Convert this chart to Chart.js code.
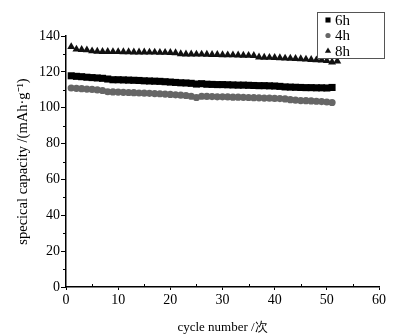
<!DOCTYPE html>
<html>
<head>
<meta charset="utf-8">
<script src="https://cdn.jsdelivr.net/npm/chart.js@4/dist/chart.umd.min.js"></script>
<style>
  html, body { margin: 0; padding: 0; background: #fff; }
  #wrap { width: 405px; height: 335px; }
</style>
</head>
<body>
<div id="wrap"><canvas id="cap_plot"></canvas></div>
<script>
'use strict';

// cycle numbers
const cycles_6h = Array.from({ length: 51 }, (_, i) => i + 1);
const cycles_4h = Array.from({ length: 51 }, (_, i) => i + 1);
const cycles_8h = Array.from({ length: 52 }, (_, i) => i + 1);

// specific capacity (mAh/g)
const cap_6h = [117.8, 117.5, 117.3, 117.0, 116.8, 116.6, 116.4, 116.0, 115.6, 115.6,
    115.5, 115.4, 115.3, 115.2, 115.0, 114.9, 114.8, 114.7, 114.5, 114.3,
    114.1, 113.9, 113.8, 113.6, 113.2, 113.4, 113.1, 113.0, 112.9, 112.9,
    112.8, 112.7, 112.6, 112.6, 112.5, 112.4, 112.3, 112.3, 112.2, 112.1,
    111.9, 111.6, 111.5, 111.4, 111.3, 111.2, 111.2, 111.1, 111.1, 111.0, 111.3];
const cap_4h = [111.0, 110.8, 110.6, 110.4, 110.2, 109.9, 109.6, 108.9, 108.8, 108.7,
    108.6, 108.5, 108.4, 108.2, 108.1, 108.0, 107.9, 107.8, 107.6, 107.4,
    107.2, 107.0, 106.8, 106.4, 105.7, 106.4, 106.3, 106.2, 106.1, 106.1,
    106.0, 105.9, 105.9, 105.8, 105.7, 105.6, 105.5, 105.4, 105.3, 105.2,
    105.1, 104.9, 104.5, 104.2, 104.0, 103.9, 103.8, 103.6, 103.4, 103.2, 102.9];
const cap_8h = [134.0, 132.6, 132.4, 132.2, 131.6, 131.4, 131.3, 131.3, 131.2, 131.2,
    131.1, 131.1, 131.0, 131.0, 131.0, 130.9, 130.9, 130.8, 130.8, 130.7,
    130.6, 130.0, 129.9, 129.9, 129.8, 129.8, 129.7, 129.6, 129.6, 129.5,
    129.4, 129.4, 129.3, 129.2, 129.1, 129.0, 128.2, 128.1, 128.0, 127.9,
    127.8, 127.6, 127.5, 127.4, 127.2, 127.0, 126.8, 126.6, 126.5, 126.2, 125.4, 126.0];

const series_labels = ['6h', '4h', '8h'];

const FONT = "'Liberation Serif', 'Times New Roman', serif";

function to_points(xs, ys) {
    return xs.map((x, i) => ({ x: x, y: ys[i] }));
}

// minor ticks: short marks between the labelled ones
const minorTicks = {
    id: 'minorTicks',
    afterDraw(chart) {
        const ctx = chart.ctx;
        const xs = chart.scales.x, ys = chart.scales.y;
        const area = chart.chartArea;
        ctx.save();
        ctx.strokeStyle = '#000';
        ctx.lineWidth = 1;
        ctx.beginPath();
        for (let v = 5; v < 60; v += 10) {
            const px = Math.round(xs.getPixelForValue(v)) + 0.5;
            ctx.moveTo(px, area.bottom);
            ctx.lineTo(px, area.bottom - 3);
        }
        for (let v = 10; v < 140; v += 20) {
            const py = Math.round(ys.getPixelForValue(v)) + 0.5;
            ctx.moveTo(area.left, py);
            ctx.lineTo(area.left - 3, py);
        }
        ctx.stroke();
        ctx.restore();
    }
};

// boxed legend in the top right corner
const boxLegend = {
    id: 'boxLegend',
    afterDraw(chart) {
        const ctx = chart.ctx;
        const left = 317, top = 12, w = 67, h = 46;
        ctx.save();
        ctx.fillStyle = '#fff';
        ctx.fillRect(left, top, w, h);
        ctx.strokeStyle = '#555';
        ctx.lineWidth = 1;
        ctx.strokeRect(left + 0.5, top + 0.5, w, h);
        ctx.font = '15px ' + FONT;
        ctx.textBaseline = 'middle';
        chart.data.datasets.forEach((ds, i) => {
            const y = top + 8 + i * 15.5;
            ctx.fillStyle = ds.backgroundColor;
            ctx.strokeStyle = ds.borderColor;
            Chart.helpers.drawPoint(ctx, {
                pointStyle: ds.pointStyle,
                radius: ds.pointStyle === 'circle' ? 2.6 : 3.6,
                borderWidth: 0
            }, left + 11, y);
            ctx.fillStyle = '#000';
            ctx.fillText(ds.label, left + 18, y + 1);
        });
        ctx.restore();
    }
};

const config = {
    type: 'scatter',
    data: {
        datasets: [
            {
                label: series_labels[0],
                data: to_points(cycles_6h, cap_6h),
                pointStyle: 'rect',
                pointRadius: 5,
                backgroundColor: '#000',
                borderColor: '#000',
                borderWidth: 0
            },
            {
                label: series_labels[1],
                data: to_points(cycles_4h, cap_4h),
                pointStyle: 'circle',
                pointRadius: 3.6,
                backgroundColor: '#666',
                borderColor: '#666',
                borderWidth: 0
            },
            {
                label: series_labels[2],
                data: to_points(cycles_8h, cap_8h),
                pointStyle: 'triangle',
                pointRadius: 4.6,
                backgroundColor: '#111',
                borderColor: '#111',
                borderWidth: 0
            }
        ]
    },
    options: {
        responsive: false,
        animation: false,
        layout: {
            padding: { top: 36, right: 26, left: 0, bottom: 0 }
        },
        plugins: {
            legend: { display: false },
            tooltip: { enabled: false }
        },
        scales: {
            x: {
                type: 'linear',
                min: 0,
                max: 60,
                ticks: {
                    stepSize: 10,
                    color: '#000',
                    padding: 2,
                    font: { family: FONT, size: 14 }
                },
                grid: {
                    drawOnChartArea: false,
                    tickLength: 3,
                    color: '#000'
                },
                border: { color: '#000', width: 1.5 },
                title: {
                    display: true,
                    text: 'cycle number /次',
                    color: '#000',
                    padding: { top: 5, bottom: 0 },
                    font: { family: FONT, size: 13 }
                },
                afterFit(scale) { scale.height = 48; }
            },
            y: {
                min: 0,
                max: 140,
                ticks: {
                    stepSize: 20,
                    color: '#000',
                    padding: 1,
                    font: { family: FONT, size: 14 }
                },
                grid: {
                    drawOnChartArea: false,
                    tickLength: 5,
                    color: '#000'
                },
                border: { color: '#000', width: 1.5 },
                title: {
                    display: true,
                    text: 'specical capacity /(mAh·g⁻¹)',
                    color: '#000',
                    padding: { top: 14, bottom: 0 },
                    font: { family: FONT, size: 14.5 }
                },
                afterFit(scale) { scale.width = 66; }
            }
        }
    },
    plugins: [minorTicks, boxLegend]
};

const canvas = document.getElementById('cap_plot');
canvas.width = 405;
canvas.height = 335;
new Chart(canvas, config);
</script>
</body>
</html>
